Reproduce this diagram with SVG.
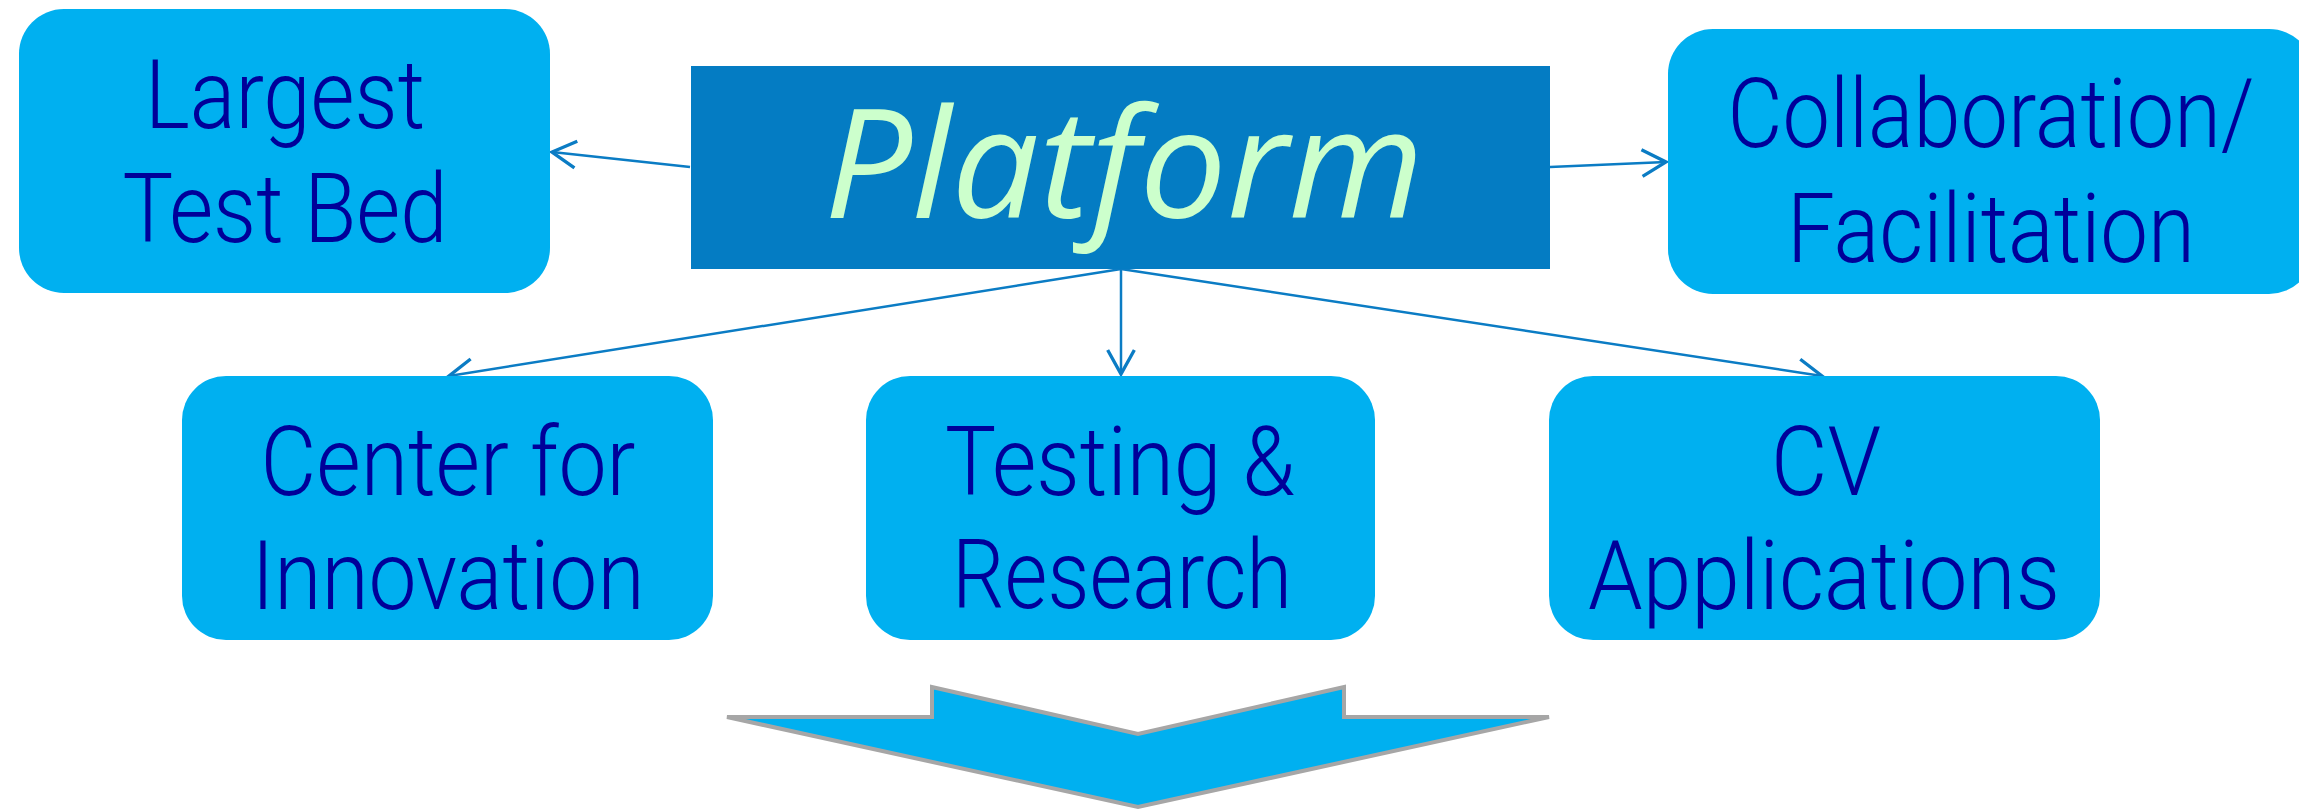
<svg xmlns="http://www.w3.org/2000/svg" width="2299" height="810" viewBox="0 0 2299 810">
<style>
.box{fill:#00B0F0;}
.lbl{font-family:Roboto,"Liberation Sans",Arial,sans-serif;font-weight:300;font-size:97px;fill:#000099;text-anchor:middle;}
.plat{font-family:"Open Sans","Liberation Sans",sans-serif;font-style:italic;font-size:152px;fill:#CCFFCC;text-anchor:middle;}
.conn{stroke:#0B7CC4;stroke-width:2.5;fill:none;}
</style>
<defs>
<marker id="open" markerUnits="userSpaceOnUse" markerWidth="40" markerHeight="40" viewBox="-25 -15 30 30" refX="0" refY="0" orient="auto" overflow="visible">
<path d="M-18,-10 L0,0 L-18,10" fill="none" stroke="#0B7CC4" stroke-width="2.5"/>
</marker>
</defs>
<rect width="2299" height="810" fill="#FFFFFF"/>
<g id="connectors">
<line class="conn" x1="690" y1="167" x2="552" y2="152" marker-end="url(#open)"/>
<line class="conn" x1="1550" y1="167" x2="1666" y2="162" marker-end="url(#open)"/>
<line class="conn" x1="1121" y1="269" x2="449" y2="376" marker-end="url(#open)"/>
<line class="conn" x1="1121" y1="269" x2="1121" y2="374" marker-end="url(#open)"/>
<line class="conn" x1="1121" y1="269" x2="1822" y2="376" marker-end="url(#open)"/>
</g>
<g id="platform">
<rect x="691" y="66" width="859" height="203" fill="#047CC3"/>
<text class="plat" x="1124" y="218" textLength="600" lengthAdjust="spacingAndGlyphs">Platform</text>
</g>
<g id="largest-test-bed">
<rect class="box" x="19" y="9" width="531" height="284" rx="45" ry="45"/>
<text class="lbl" x="285" y="128" textLength="280" lengthAdjust="spacingAndGlyphs">Largest</text>
<text class="lbl" x="285" y="242" textLength="325" lengthAdjust="spacingAndGlyphs">Test Bed</text>
</g>
<g id="collaboration">
<rect class="box" x="1668" y="29" width="646" height="265" rx="45" ry="45"/>
<text class="lbl" x="1991" y="147" textLength="527" lengthAdjust="spacingAndGlyphs">Collaboration/</text>
<text class="lbl" x="1991" y="262" textLength="408" lengthAdjust="spacingAndGlyphs">Facilitation</text>
</g>
<g id="center-for-innovation">
<rect class="box" x="182" y="376" width="531" height="264" rx="44" ry="44"/>
<text class="lbl" x="448" y="495" textLength="375" lengthAdjust="spacingAndGlyphs">Center for</text>
<text class="lbl" x="448" y="609" textLength="393" lengthAdjust="spacingAndGlyphs">Innovation</text>
</g>
<g id="testing-research">
<rect class="box" x="866" y="376" width="509" height="264" rx="44" ry="44"/>
<text class="lbl" x="1120" y="495" textLength="350" lengthAdjust="spacingAndGlyphs">Testing &amp;</text>
<text class="lbl" x="1122" y="608" textLength="340" lengthAdjust="spacingAndGlyphs">Research</text>
</g>
<g id="cv-applications">
<rect class="box" x="1549" y="376" width="551" height="264" rx="44" ry="44"/>
<text class="lbl" x="1826" y="495" textLength="110" lengthAdjust="spacingAndGlyphs">CV</text>
<text class="lbl" x="1824" y="609" textLength="472" lengthAdjust="spacingAndGlyphs">Applications</text>
</g>
<g id="down-arrow">
<polygon points="727,717 932,717 932,687 1138,734 1344,687 1344,717 1549,717 1138,807" fill="#00B0F0" stroke="#A6A6A6" stroke-width="4"/>
</g>
</svg>
